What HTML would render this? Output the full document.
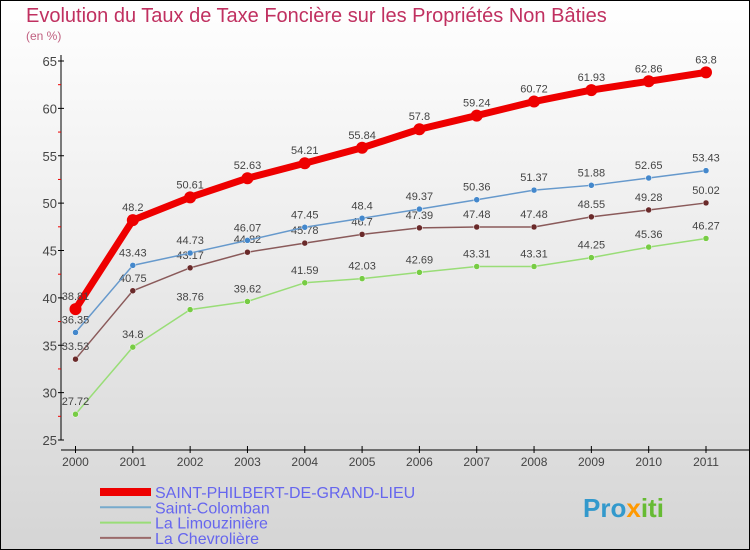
<!DOCTYPE html>
<html><head><meta charset="utf-8"><style>
body{margin:0}
svg{display:block;font-family:"Liberation Sans",sans-serif}
</style></head><body>
<svg id="c" width="750" height="550" viewBox="0 0 750 550">
<defs><linearGradient id="bg" x1="0" y1="0" x2="0" y2="1"><stop offset="0" stop-color="#ffffff"/><stop offset="1" stop-color="#d5d5d5"/></linearGradient></defs>
<rect x="0.5" y="0.5" width="749" height="549" fill="url(#bg)" stroke="#000"/>
<text x="26" y="22" font-size="20" fill="#c03060">Evolution du Taux de Taxe Foncière sur les Propriétés Non Bâties</text>
<text x="26" y="40" font-size="12" fill="#c06080">(en %)</text>
<g id="axes"></g>
<g id="series"></g>
<g id="legend"></g>
<text x="583" y="517" font-size="26" font-weight="bold" fill="#3399cc">Pro<tspan fill="#ff9900">x</tspan><tspan fill="#66bb33">iti</tspan></text>
</svg>
<script>
const years=[2000,2001,2002,2003,2004,2005,2006,2007,2008,2009,2010,2011];
const yTicks=[25,30,35,40,45,50,55,60,65];
const names=["SAINT-PHILBERT-DE-GRAND-LIEU","Saint-Colomban","La Limouzinière","La Chevrolière"];
const sSaintPhilbert=[38.81,48.2,50.61,52.63,54.21,55.84,57.8,59.24,60.72,61.93,62.86,63.8];
const sSaintColomban=[36.35,43.43,44.73,46.07,47.45,48.4,49.37,50.36,51.37,51.88,52.65,53.43];
const sLimouziniere=[27.72,34.8,38.76,39.62,41.59,42.03,42.69,43.31,43.31,44.25,45.36,46.27];
const sChevroliere=[33.53,40.75,43.17,44.82,45.78,46.7,47.39,47.48,47.48,48.55,49.28,50.02];
const NS="http://www.w3.org/2000/svg";
const x=i=>75.5+i*(706-75.5)/(years.length-1);
const y=v=>440-(v-25)*(440-61)/40;
function mk(tag,attrs,parent,txt){const e=document.createElementNS(NS,tag);for(const k in attrs)e.setAttribute(k,attrs[k]);if(txt!==undefined)e.textContent=txt;parent.appendChild(e);return e;}
const ax=document.getElementById('axes');
let e=mk('line',{x1:61,y1:55,x2:61,y2:440,stroke:'#000'},ax);


yTicks.forEach((t,i)=>{
 mk('line',{x1:58,y1:y(t),x2:64,y2:y(t),stroke:'#000'},ax);
 let l=mk('text',{x:57,y:y(t)+5,'font-size':13,'text-anchor':'end',fill:'#444'},ax,t);
 
 
 if(i<yTicks.length-1)mk('line',{x1:58,y1:y(t+2.5),x2:61,y2:y(t+2.5),stroke:'#e00'},ax);
});
e=mk('line',{x1:61,y1:450,x2:750,y2:450,stroke:'#000'},ax);


years.forEach((yr,i)=>{
 mk('line',{x1:x(i),y1:446,x2:x(i),y2:453,stroke:'#000'},ax);
 let l=mk('text',{x:x(i),y:466,'font-size':12,'text-anchor':'middle',fill:'#444'},ax,yr);
 
 
});
const ser=[
 {d:sChevroliere,c:'#6a2a2a',lc:'#8a5a5a',w:1.5,r:3,n:'series-la-chevroliere'},
 {d:sLimouziniere,c:'#77cc44',lc:'#99dd77',w:1.5,r:3,n:'series-la-limouziniere'},
 {d:sSaintColomban,c:'#4488cc',lc:'#6699cc',w:1.5,r:3,n:'series-saint-colomban'},
 {d:sSaintPhilbert,c:'#ee0000',lc:'#ee0000',w:7,r:6,n:'series-saint-philbert'}];
const sg=document.getElementById('series');
ser.forEach(s=>{
 const g=mk('g',{},sg);
 
 
 const p=mk('polyline',{points:s.d.map((v,i)=>x(i)+','+y(v)).join(' '),fill:'none',stroke:s.lc,'stroke-width':s.w,'stroke-linejoin':'round'},g);
 
 
 s.d.forEach((v,i)=>{
  const c=mk('circle',{cx:x(i),cy:y(v),r:s.r,fill:s.c,stroke:s.r>4?'none':'#fff','stroke-width':0.5},g);
  
  
  const t=mk('text',{x:x(i),y:y(v)-9,'font-size':11,'text-anchor':'middle',fill:'#444'},g,String(v));
  
  
 });
});
const lg=document.getElementById('legend');
const lcols=['#ee0000','#77aacc','#99dd77','#9a6a6a'],lw=[8,2,2,2];
names.forEach((n,i)=>{
 const yy=492+i*15.3;
 const g=mk('g',{},lg);
 
 
 mk('line',{x1:100,y1:yy,x2:151,y2:yy,stroke:lcols[i],'stroke-width':lw[i]},g);
 mk('text',{x:155,y:yy+6,'font-size':16,fill:'#6666ee'},g,n);
});
</script>
</body></html>
